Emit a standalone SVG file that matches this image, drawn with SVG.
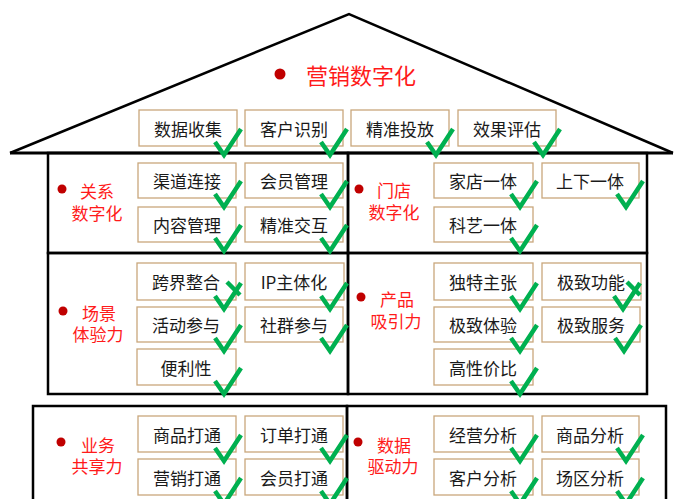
<svg xmlns="http://www.w3.org/2000/svg" xmlns:xlink="http://www.w3.org/1999/xlink" width="675" height="499" viewBox="0 0 675 499">
<defs>
<style>
.frame{fill:none;stroke:#000;stroke-width:2.5}
.box{fill:#fff;stroke:#c9a77c;stroke-width:1.3}
.bt{font-family:"Noto Sans CJK SC","Liberation Sans",sans-serif;font-size:17px;fill:#1a1a1a;text-anchor:middle;dominant-baseline:central}
.lt{font-family:"Noto Sans CJK SC","Liberation Sans",sans-serif;font-size:17px;fill:#ff1a1a;text-anchor:middle;dominant-baseline:central}
.tt{font-family:"Noto Sans CJK SC","Liberation Sans",sans-serif;font-size:22px;fill:#ff1a1a;dominant-baseline:central}
.dot{fill:#c00000}
.ck{fill:none;stroke:#00b050;stroke-width:4.5;stroke-linejoin:miter}
</style>
<path id="chk" class="ck" d="M-22,-4 L-13,9 L4,-17"/>
</defs>
<rect width="675" height="499" fill="#fff"/>

<g id="roof">
<polyline class="frame" points="10,153 349,14 673,153" />
<line x1="10" y1="153" x2="673" y2="153" stroke="#000" stroke-width="3"/>
<circle class="dot" cx="280" cy="74" r="5.5"/>
<text class="tt" x="306" y="74">营销数字化</text>
</g>

<g id="frames">
<rect class="frame" x="48" y="153" width="300" height="100"/>
<rect class="frame" x="348" y="153" width="299" height="100"/>
<rect class="frame" x="48" y="253" width="300" height="141"/>
<rect class="frame" x="348" y="253" width="299" height="141"/>
<rect class="frame" x="33" y="406" width="314" height="110"/>
<rect class="frame" x="347" y="406" width="319" height="110"/>
</g>

<g id="roof-items">
<g id="n-sjsj"><rect class="box" x="139" y="110" width="98" height="36"/><text class="bt" x="188" y="128">数据收集</text></g>
<g id="n-khsb"><rect class="box" x="245" y="110" width="98" height="36"/><text class="bt" x="294" y="128">客户识别</text></g>
<g id="n-jztf"><rect class="box" x="351" y="110" width="98" height="36"/><text class="bt" x="400" y="128">精准投放</text></g>
<g id="n-xgpg"><rect class="box" x="458" y="110" width="98" height="36"/><text class="bt" x="507" y="128">效果评估</text></g>
</g>

<g id="sec-guanxi">
<circle class="dot" cx="62" cy="189" r="4.5"/>
<text class="lt" x="97" y="190">关系</text><text class="lt" x="97" y="212">数字化</text>
<g id="n-qdlj"><rect class="box" x="138" y="163" width="98" height="35"/><text class="bt" x="187" y="180">渠道连接</text></g>
<g id="n-hygl"><rect class="box" x="245" y="163" width="98" height="35"/><text class="bt" x="294" y="180">会员管理</text></g>
<g id="n-nrgl"><rect class="box" x="138" y="207" width="98" height="35"/><text class="bt" x="187" y="224">内容管理</text></g>
<g id="n-jzjh"><rect class="box" x="245" y="207" width="98" height="35"/><text class="bt" x="294" y="224">精准交互</text></g>
</g>

<g id="sec-mendian">
<circle class="dot" cx="359" cy="189" r="4.5"/>
<text class="lt" x="394" y="189">门店</text><text class="lt" x="394" y="211">数字化</text>
<g id="n-jdyt"><rect class="box" x="434" y="163" width="99" height="35"/><text class="bt" x="483" y="180">家店一体</text></g>
<g id="n-sxyt"><rect class="box" x="542" y="163" width="97" height="35"/><text class="bt" x="590" y="180">上下一体</text></g>
<g id="n-kyyt"><rect class="box" x="434" y="207" width="99" height="35"/><text class="bt" x="483" y="224">科艺一体</text></g>
</g>

<g id="sec-changjing">
<circle class="dot" cx="63" cy="311" r="4.5"/>
<text class="lt" x="99" y="312">场景</text><text class="lt" x="98" y="333">体验力</text>
<g id="n-kjzh"><rect class="box" x="137" y="263" width="99" height="37"/><text class="bt" x="186" y="281">跨界整合</text></g>
<g id="n-ipzth"><rect class="box" x="245" y="263" width="99" height="37"/><text class="bt" x="294" y="281">IP主体化</text></g>
<g id="n-hdcy"><rect class="box" x="137" y="307" width="99" height="35"/><text class="bt" x="186" y="324">活动参与</text></g>
<g id="n-sqcy"><rect class="box" x="245" y="307" width="98" height="35"/><text class="bt" x="294" y="324">社群参与</text></g>
<g id="n-blx"><rect class="box" x="137" y="349" width="99" height="36"/><text class="bt" x="186" y="367">便利性</text></g>
</g>

<g id="sec-chanpin">
<circle class="dot" cx="361" cy="297" r="4.5"/>
<text class="lt" x="397" y="298">产品</text><text class="lt" x="396" y="320">吸引力</text>
<g id="n-dtzz"><rect class="box" x="434" y="263" width="99" height="37"/><text class="bt" x="483" y="281">独特主张</text></g>
<g id="n-jzgn"><rect class="box" x="542" y="263" width="99" height="37"/><text class="bt" x="591" y="281">极致功能</text></g>
<g id="n-jzty"><rect class="box" x="434" y="307" width="99" height="35"/><text class="bt" x="483" y="324">极致体验</text></g>
<g id="n-jzfw"><rect class="box" x="542" y="307" width="98" height="35"/><text class="bt" x="591" y="324">极致服务</text></g>
<g id="n-gxjb"><rect class="box" x="434" y="349" width="99" height="36"/><text class="bt" x="483" y="367">高性价比</text></g>
</g>

<g id="sec-yewu">
<circle class="dot" cx="61" cy="442" r="4.5"/>
<text class="lt" x="98" y="444">业务</text><text class="lt" x="97" y="465">共享力</text>
<g id="n-sp"><rect class="box" x="138" y="416" width="98" height="36"/><text class="bt" x="187" y="434">商品打通</text></g>
<g id="n-dd"><rect class="box" x="245" y="416" width="98" height="36"/><text class="bt" x="294" y="434">订单打通</text></g>
<g id="n-yx"><rect class="box" x="138" y="459" width="98" height="36"/><text class="bt" x="187" y="477">营销打通</text></g>
<g id="n-hy"><rect class="box" x="245" y="459" width="98" height="36"/><text class="bt" x="294" y="477">会员打通</text></g>
</g>

<g id="sec-shuju">
<circle class="dot" cx="358" cy="442" r="4.5"/>
<text class="lt" x="394" y="444">数据</text><text class="lt" x="393" y="465">驱动力</text>
<g id="n-jyfx"><rect class="box" x="434" y="416" width="99" height="36"/><text class="bt" x="483" y="434">经营分析</text></g>
<g id="n-spfx"><rect class="box" x="542" y="416" width="97" height="36"/><text class="bt" x="590" y="434">商品分析</text></g>
<g id="n-khfx"><rect class="box" x="434" y="459" width="99" height="36"/><text class="bt" x="483" y="477">客户分析</text></g>
<g id="n-cqfx"><rect class="box" x="542" y="459" width="97" height="36"/><text class="bt" x="590" y="477">场区分析</text></g>
</g>

<g id="checks">
<use xlink:href="#chk" x="237" y="146"/>
<use xlink:href="#chk" x="343" y="146"/>
<use xlink:href="#chk" x="449" y="146"/>
<use xlink:href="#chk" x="556" y="146"/>
<use xlink:href="#chk" x="237" y="198"/>
<use xlink:href="#chk" x="343" y="198"/>
<use xlink:href="#chk" x="237" y="242"/>
<use xlink:href="#chk" x="343" y="242"/>
<use xlink:href="#chk" x="533" y="198"/>
<use xlink:href="#chk" x="639" y="198"/>
<use xlink:href="#chk" x="533" y="242"/>
<use xlink:href="#chk" x="237" y="300"/>
<use xlink:href="#chk" x="343" y="300"/>
<use xlink:href="#chk" x="237" y="342"/>
<use xlink:href="#chk" x="343" y="342"/>
<use xlink:href="#chk" x="237" y="385"/>
<use xlink:href="#chk" x="533" y="300"/>
<use xlink:href="#chk" x="636" y="300"/>
<use xlink:href="#chk" x="533" y="342"/>
<use xlink:href="#chk" x="637" y="342"/>
<use xlink:href="#chk" x="533" y="385"/>
<use xlink:href="#chk" x="237" y="452"/>
<use xlink:href="#chk" x="343" y="452"/>
<use xlink:href="#chk" x="237" y="495"/>
<use xlink:href="#chk" x="343" y="495"/>
<use xlink:href="#chk" x="533" y="452"/>
<use xlink:href="#chk" x="639" y="452"/>
<use xlink:href="#chk" x="533" y="495"/>
<use xlink:href="#chk" x="639" y="495"/>
<line class="ck" x1="227" y1="282" x2="240" y2="295"/>
<line class="ck" x1="627" y1="282" x2="640" y2="295"/>
</g>
</svg>
